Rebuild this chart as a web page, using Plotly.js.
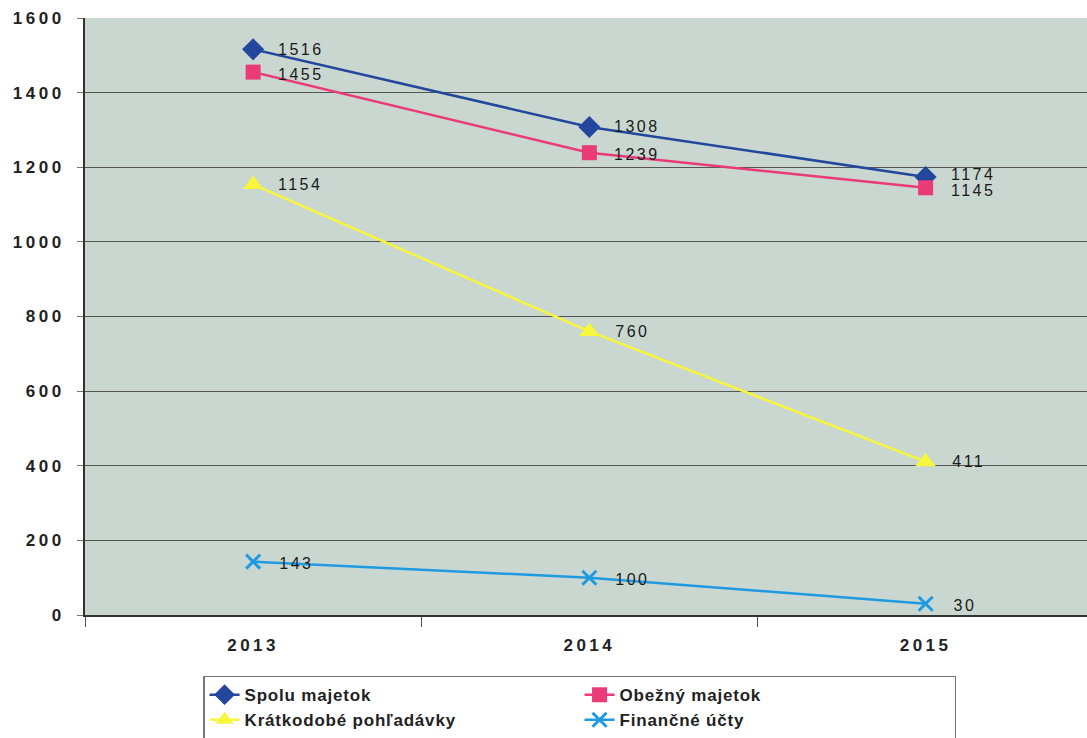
<!DOCTYPE html>
<html>
<head>
<meta charset="utf-8">
<script src="https://cdn.plot.ly/plotly-3.0.1.min.js"></script>
<style>
html,body{margin:0;padding:0;background:#fff;}
#chart{width:1087px;height:738px;}
#chart .xtick text, #chart .ytick text {letter-spacing: 3.5px;}
#chart .annotation-text {letter-spacing: 2.5px;}
#chart .legendtext {letter-spacing: 0.8px;}
</style>
</head>
<body>
<div id="chart"></div>
<script>
const years = ["2013", "2014", "2015"];
const spoluMajetok = [1516, 1308, 1174];
const obeznyMajetok = [1455, 1239, 1145];
const kratkodobePohladavky = [1154, 760, 411];
const financneUcty = [143, 100, 30];
const seriesNames = ["Spolu majetok", "Obežný majetok", "Krátkodobé pohľadávky", "Finančné účty"];
const yTicks = [0, 200, 400, 600, 800, 1000, 1200, 1400, 1600];

const colors = ["#23479c", "#ea3a78", "#f7f53c", "#1f9ae0"];
const symbols = ["diamond", "square", "triangle-up", "x-thin"];
const sizes = [17, 15, 18, 14];
const data = [spoluMajetok, obeznyMajetok, kratkodobePohladavky, financneUcty];

const traces = data.map((vals, i) => ({
  type: "scatter",
  mode: "lines+markers",
  x: years,
  y: vals,
  name: seriesNames[i],
  line: {color: colors[i], width: 2.5},
  marker: {symbol: symbols[i], size: sizes[i], color: colors[i],
           line: {color: colors[i], width: i === 3 ? 3 : 0}}
}));

const annotations = [];
const yshifts = [0, -2, 0, -2];
data.forEach((vals, i) => {
  vals.forEach((v, j) => {
    let ys = yshifts[i];
    if (j === 2 && i === 0) ys = 2;
    if (j === 2 && i === 1) ys = -3;
    annotations.push({
      x: j, y: v, xref: "x", yref: "y",
      text: String(v), showarrow: false,
      xanchor: "left", yanchor: "middle",
      xshift: 28, yshift: ys,
      font: {family: "Liberation Sans, Arial, sans-serif", size: 16, color: "#1a1a1a"}
    });
  });
});

const layout = {
  width: 1087, height: 738,
  margin: {l: 85, r: 0, t: 18, b: 123},
  paper_bgcolor: "#ffffff",
  plot_bgcolor: "#c9d7d0",
  showlegend: true,
  legend: {
    orientation: "h",
    xref: "container", yref: "container",
    x: 0.1868, y: 0.0845, xanchor: "left", yanchor: "top",
    entrywidth: 330, entrywidthmode: "pixels",
    bgcolor: "#ffffff", bordercolor: "#777", borderwidth: 1.5,
    font: {family: "Liberation Sans, Arial, sans-serif", size: 17, color: "#222", weight: "bold"},
    traceorder: "normal"
  },
  xaxis: {
    type: "category",
    range: [-0.5, 2.48],
    tickson: "boundaries",
    ticks: "outside", ticklen: 10, tickcolor: "#555",
    showgrid: false,
    showline: true, linecolor: "#333", linewidth: 2,
    tickfont: {family: "Liberation Sans, Arial, sans-serif", size: 17, color: "#222", weight: "bold"},
    ticklabelstandoff: 14,
    zeroline: false, fixedrange: true
  },
  yaxis: {
    range: [0, 1600],
    tickvals: yTicks,
    ticktext: yTicks.map(String),
    ticks: "outside", ticklen: 6, tickcolor: "#777",
    showgrid: true, gridcolor: "#555", gridwidth: 1,
    showline: true, linecolor: "#333", linewidth: 2,
    zeroline: false,
    tickfont: {family: "Liberation Sans, Arial, sans-serif", size: 17, color: "#222", weight: "bold"},
    ticklabelstandoff: 9,
    fixedrange: true
  },
  annotations: annotations
};

Plotly.newPlot("chart", traces, layout, {displayModeBar: false, staticPlot: true});
</script>
</body>
</html>
